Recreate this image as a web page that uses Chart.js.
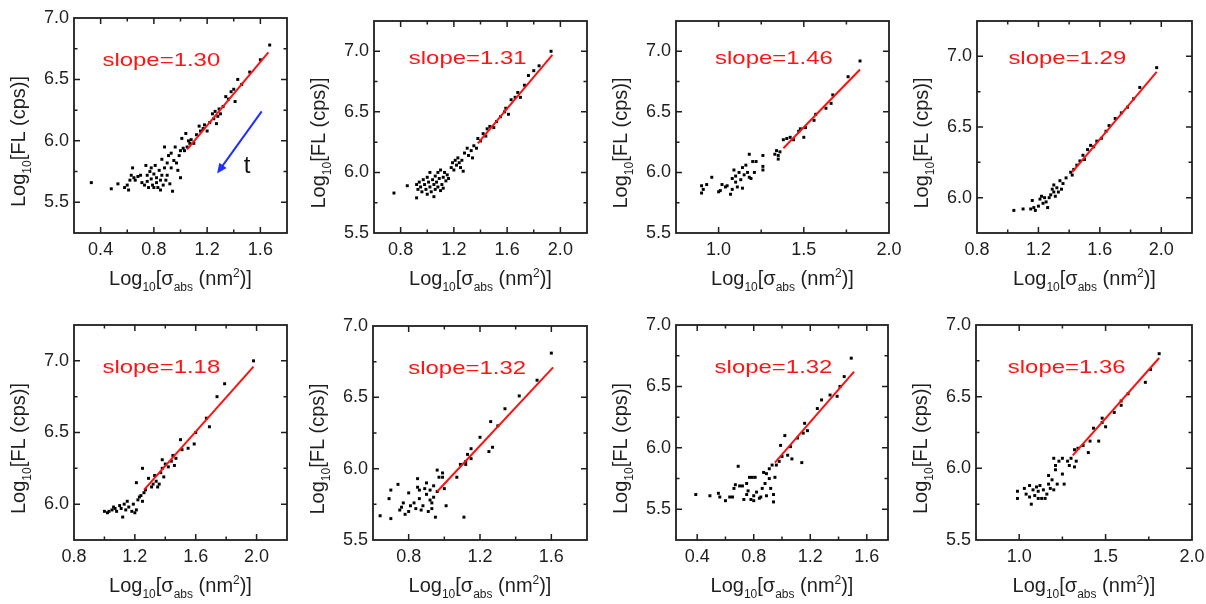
<!DOCTYPE html>
<html><head><meta charset="utf-8">
<script src="https://cdn.jsdelivr.net/npm/chart.js@4.4.0/dist/chart.umd.min.js"></script>
<style>
html,body{margin:0;padding:0;background:#fff;}
#wrap{position:relative;width:1206px;height:604px;overflow:hidden;background:#fff;}
#wrap canvas{position:absolute;}
</style></head><body><div id="wrap"></div>
<script>
// ---------- DATA ----------
const slopes = ['1.30','1.31','1.46','1.29','1.18','1.32','1.32','1.36'];

const p1x = [0.33,0.48,0.53,0.58,0.60,0.61,0.62,0.63,0.64,0.65,0.66,0.68,0.70,0.71,0.73,0.74,0.75,0.75,0.76,0.77,0.78,0.78,0.79,0.80,0.80,0.81,0.82,0.82,0.83,0.84,0.85,0.85,0.86,0.86,0.87,0.88,0.88,0.89,0.90,0.90,0.91,0.92,0.93,0.93,0.94,0.95,0.96,0.97,0.98,0.99,1.00,1.00,1.01,1.02,1.03,1.04,1.05,1.06,1.07,1.08,1.10,1.12,1.14,1.15,1.17,1.18,1.20,1.22,1.24,1.25,1.26,1.27,1.28,1.29,1.30,1.32,1.34,1.36,1.38,1.40,1.41,1.43,1.46,1.52,1.60,1.67];
const p1y = [5.66,5.61,5.65,5.62,5.64,5.60,5.68,5.72,5.78,5.70,5.68,5.71,5.72,5.66,5.64,5.80,5.72,5.67,5.62,5.75,5.69,5.78,5.64,5.62,5.73,5.80,5.70,5.66,5.62,5.76,5.68,5.60,5.72,5.85,5.64,5.78,5.95,5.68,5.82,5.72,5.88,5.65,5.90,5.78,5.59,5.84,5.95,5.82,5.76,5.88,5.70,5.92,6.02,5.94,5.92,6.06,5.95,6.00,5.98,6.01,5.98,6.05,6.12,6.08,6.10,6.13,6.08,6.15,6.22,6.18,6.24,6.14,6.20,6.26,6.22,6.28,6.36,6.34,6.40,6.42,6.32,6.50,6.46,6.56,6.66,6.78];

const p2x = [0.75,0.85,0.92,0.92,0.93,0.94,0.95,0.96,0.97,0.98,0.99,1.00,1.00,1.01,1.02,1.02,1.03,1.04,1.05,1.05,1.06,1.06,1.07,1.08,1.08,1.09,1.10,1.10,1.11,1.12,1.12,1.13,1.14,1.15,1.16,1.18,1.19,1.20,1.21,1.22,1.23,1.24,1.25,1.26,1.27,1.28,1.30,1.31,1.33,1.34,1.35,1.37,1.38,1.40,1.42,1.44,1.45,1.47,1.50,1.52,1.55,1.58,1.59,1.61,1.63,1.66,1.68,1.70,1.73,1.76,1.80,1.84,1.93];
const p2y = [5.83,5.89,5.79,5.90,5.86,5.92,5.88,5.84,5.94,5.90,5.86,5.96,5.82,5.92,5.88,6.00,5.84,5.94,5.90,5.80,5.97,5.86,5.92,6.00,5.88,5.95,5.85,6.02,5.90,5.96,5.87,6.00,5.93,5.98,5.95,6.04,6.08,6.02,6.10,6.06,6.12,6.08,6.04,6.10,6.01,6.16,6.20,6.14,6.18,6.12,6.22,6.20,6.28,6.26,6.32,6.30,6.36,6.38,6.37,6.42,6.46,6.50,6.53,6.48,6.60,6.62,6.66,6.62,6.72,6.80,6.84,6.88,7.00];

const p3x = [0.90,0.90,0.91,0.93,0.96,1.00,1.01,1.02,1.04,1.05,1.07,1.08,1.08,1.09,1.10,1.10,1.11,1.12,1.13,1.14,1.14,1.15,1.16,1.17,1.18,1.18,1.19,1.20,1.21,1.22,1.26,1.26,1.26,1.33,1.34,1.35,1.35,1.36,1.38,1.40,1.42,1.44,1.47,1.48,1.50,1.51,1.56,1.57,1.63,1.66,1.67,1.76,1.83];
const p3y = [5.83,5.89,5.86,5.90,5.96,5.84,5.85,5.90,5.88,5.89,5.82,5.86,5.95,6.02,5.92,5.97,5.88,6.00,5.94,6.04,5.87,5.98,6.06,6.00,5.96,6.15,5.95,6.09,6.00,6.09,6.14,6.05,6.02,6.15,6.18,6.14,6.11,6.17,6.27,6.28,6.29,6.27,6.34,6.36,6.29,6.37,6.43,6.48,6.53,6.57,6.64,6.79,6.92];

const p4x = [1.04,1.10,1.15,1.16,1.17,1.18,1.20,1.21,1.22,1.23,1.24,1.25,1.26,1.27,1.28,1.29,1.30,1.30,1.31,1.32,1.33,1.34,1.35,1.36,1.38,1.41,1.42,1.43,1.45,1.47,1.49,1.50,1.52,1.54,1.56,1.58,1.61,1.64,1.66,1.70,1.74,1.78,1.82,1.86,1.97];
const p4y = [5.91,5.92,5.92,5.98,5.93,5.91,5.94,5.99,6.01,5.96,6.00,5.97,5.93,6.00,6.02,6.06,6.04,6.09,6.01,6.07,6.04,6.12,6.06,6.10,6.14,6.18,6.16,6.20,6.23,6.26,6.30,6.27,6.34,6.37,6.36,6.40,6.42,6.47,6.51,6.56,6.60,6.64,6.70,6.78,6.92];

const p5x = [1.00,1.02,1.03,1.05,1.06,1.07,1.08,1.10,1.11,1.12,1.13,1.14,1.15,1.16,1.18,1.19,1.20,1.21,1.21,1.22,1.23,1.24,1.25,1.25,1.26,1.27,1.29,1.31,1.32,1.33,1.34,1.35,1.36,1.37,1.38,1.38,1.39,1.40,1.42,1.44,1.45,1.46,1.47,1.50,1.51,1.55,1.59,1.60,1.67,1.69,1.74,1.79,1.98];
const p5y = [5.95,5.94,5.95,5.96,5.98,5.97,5.95,5.99,5.97,5.91,6.00,5.96,6.02,5.98,5.95,6.00,5.94,6.15,5.96,6.03,6.05,6.06,6.02,6.25,6.08,6.10,6.18,6.12,6.14,6.20,6.16,6.12,6.14,6.22,6.31,6.25,6.19,6.28,6.26,6.30,6.34,6.27,6.32,6.45,6.38,6.39,6.42,6.50,6.60,6.54,6.75,6.84,7.00];

const p6x = [0.64,0.69,0.70,0.70,0.74,0.75,0.76,0.77,0.78,0.80,0.80,0.81,0.83,0.84,0.85,0.85,0.86,0.86,0.87,0.88,0.89,0.90,0.90,0.91,0.92,0.92,0.93,0.93,0.94,0.94,0.95,0.96,0.96,0.97,0.99,0.99,1.00,1.01,1.07,1.09,1.11,1.12,1.12,1.13,1.15,1.15,1.20,1.25,1.26,1.27,1.30,1.34,1.42,1.52,1.60];
const p6y = [5.67,5.79,5.85,5.65,5.89,5.71,5.73,5.76,5.68,5.83,5.70,5.74,5.76,5.72,5.93,5.87,5.79,5.85,5.71,5.74,5.86,5.90,5.82,5.70,5.78,5.85,5.76,5.72,5.88,5.80,5.66,5.99,5.84,5.94,5.97,5.94,5.86,5.74,5.94,6.03,5.66,6.05,6.03,6.10,6.14,6.07,6.22,6.12,6.33,6.15,6.30,6.42,6.51,6.62,6.81];

const p7x = [0.39,0.49,0.55,0.56,0.60,0.63,0.65,0.66,0.67,0.69,0.70,0.72,0.73,0.75,0.75,0.76,0.77,0.78,0.79,0.80,0.80,0.81,0.82,0.84,0.85,0.86,0.87,0.88,0.89,0.89,0.91,0.91,0.92,0.93,0.94,0.94,0.95,0.96,0.98,0.99,1.00,1.02,1.04,1.06,1.07,1.11,1.14,1.15,1.16,1.18,1.25,1.28,1.34,1.39,1.41,1.44,1.49];
const p7y = [5.62,5.61,5.63,5.60,5.57,5.60,5.60,5.67,5.70,5.85,5.69,5.69,5.58,5.62,5.71,5.65,5.76,5.58,5.76,5.61,5.57,5.76,5.64,5.59,5.60,5.67,5.80,5.71,5.61,5.79,5.75,5.83,5.67,5.86,5.62,5.56,5.76,5.86,5.89,6.02,5.93,6.10,5.94,6.01,5.91,6.08,5.88,6.12,6.20,6.14,6.32,6.39,6.43,6.42,6.50,6.58,6.73];

const p8x = [0.99,0.99,1.03,1.04,1.06,1.06,1.07,1.08,1.09,1.10,1.11,1.11,1.12,1.13,1.14,1.15,1.16,1.17,1.17,1.18,1.19,1.20,1.20,1.21,1.21,1.22,1.23,1.25,1.25,1.26,1.28,1.29,1.30,1.32,1.32,1.33,1.34,1.37,1.40,1.41,1.43,1.46,1.48,1.48,1.50,1.55,1.59,1.59,1.63,1.73,1.76,1.81];
const p8y = [5.84,5.79,5.86,5.82,5.88,5.80,5.75,5.85,5.81,5.87,5.79,5.84,5.88,5.79,5.85,5.79,5.82,5.89,5.95,5.86,5.92,5.85,6.07,6.02,5.99,5.89,6.05,5.96,6.07,5.89,6.05,6.02,6.07,6.01,6.13,6.05,6.14,6.16,6.11,6.19,6.28,6.19,6.35,6.32,6.29,6.39,6.44,6.47,6.52,6.60,6.69,6.80];

// fitted lines (end points)
const fit1x = [1.05,1.66], fit1y = [5.93,6.72];
const fit2x = [1.38,1.94], fit2y = [6.24,6.97];
const fit3x = [1.38,1.83], fit3y = [6.20,6.85];
const fit4x = [1.42,1.97], fit4y = [6.18,6.89];
const fit5x = [1.26,1.98], fit5y = [6.10,6.96];
const fit6x = [0.96,1.61], fit6y = [5.84,6.71];
const fit7x = [0.95,1.51], fit7y = [5.88,6.62];
const fit8x = [1.31,1.81], fit8y = [6.09,6.77];

// axis ranges and tick labels
const xRange1 = [0.2,1.8],  yRange1 = [5.25,7.0];
const xRange2 = [0.6,2.2],  yRange2 = [5.5,7.25];
const xRange3 = [0.75,2.0], yRange3 = [5.5,7.25];
const xRange4 = [0.8,2.2],  yRange4 = [5.75,7.25];
const xRange5 = [0.8,2.2],  yRange5 = [5.75,7.25];
const xRange6 = [0.6,1.8],  yRange6 = [5.5,7.0];
const xRange7 = [0.25,1.75],yRange7 = [5.25,7.0];
const xRange8 = [0.75,2.0], yRange8 = [5.5,7.0];

const xTicksA = [0.4,0.8,1.2,1.6];
const xTicksB = [0.8,1.2,1.6,2.0];
const xTicksC = [1.0,1.5,2.0];
const xTicksD = [0.8,1.2,1.6];
const yTicksA = [5.5,6.0,6.5,7.0];
const yTicksB = [6.0,6.5,7.0];

// time arrow in first panel (data coordinates)
const arrowFrom = [1.61,6.24], arrowTo = [1.275,5.735], arrowLabelAt = [1.50,5.79];

// ---------- LAYOUT ----------
const FONT = '"Liberation Sans", Arial, sans-serif';
const panels = [
  {xs:p1x,ys:p1y,fx:fit1x,fy:fit1y,s:slopes[0],xr:xRange1,yr:yRange1,xt:xTicksA,yt:yTicksA,cell:[0,0],  box:[74,287,18,233], sp:[0.41,0.20], arrow:true},
  {xs:p2x,ys:p2y,fx:fit2x,fy:fit2y,s:slopes[1],xr:xRange2,yr:yRange2,xt:xTicksB,yt:yTicksA,cell:[300,0],box:[74,287,21,233], sp:[0.44,0.18]},
  {xs:p3x,ys:p3y,fx:fit3x,fy:fit3y,s:slopes[2],xr:xRange3,yr:yRange3,xt:xTicksC,yt:yTicksA,cell:[600,0],box:[76,289,21,233], sp:[0.46,0.18]},
  {xs:p4x,ys:p4y,fx:fit4x,fy:fit4y,s:slopes[3],xr:xRange4,yr:yRange4,xt:xTicksB,yt:yTicksB,cell:[900,0],box:[77,292,21,233], sp:[0.42,0.18]},
  {xs:p5x,ys:p5y,fx:fit5x,fy:fit5y,s:slopes[4],xr:xRange5,yr:yRange5,xt:xTicksB,yt:yTicksB,cell:[0,300],  box:[74,287,25,240], sp:[0.41,0.20]},
  {xs:p6x,ys:p6y,fx:fit6x,fy:fit6y,s:slopes[5],xr:xRange6,yr:yRange6,xt:xTicksD,yt:yTicksA,cell:[300,300],box:[73,287,26,240], sp:[0.44,0.20]},
  {xs:p7x,ys:p7y,fx:fit7x,fy:fit7y,s:slopes[6],xr:xRange7,yr:yRange7,xt:xTicksA,yt:yTicksA,cell:[600,300],box:[76,288,25,240], sp:[0.46,0.20]},
  {xs:p8x,ys:p8y,fx:fit8x,fy:fit8y,s:slopes[7],xr:xRange8,yr:yRange8,xt:xTicksC,yt:yTicksA,cell:[900,300],box:[76,292,25,240], sp:[0.42,0.20]}
];

const Y_AXIS_W = 40, X_AXIS_H = 30, RIGHT_PAD = 25, BOTTOM_EXTRA = 62;

function tickMarks(min, max, majors){
  const h = (majors[1]-majors[0])/2, out = [];
  const k0 = Math.ceil((min-majors[0])/h - 1e-6), k1 = Math.floor((max-majors[0])/h + 1e-6);
  for(let k=k0;k<=k1;k++){
    const v = majors[0]+k*h;
    if(Math.abs(v-min)<1e-6 || Math.abs(v-max)<1e-6) continue;
    out.push([v, k%2===0]);
  }
  return out;
}

function drawRich(ctx, segs, cx, cy, size){
  const parts = segs.map(s=>{
    const fs = s.k ? Math.round(size*0.62) : size;
    ctx.font = fs+'px '+FONT;
    return {t:s.t,k:s.k,fs,w:ctx.measureText(s.t).width};
  });
  const total = parts.reduce((a,p)=>a+p.w,0);
  let x = cx-total/2;
  const base = cy + size*0.35;
  ctx.textAlign='left'; ctx.textBaseline='alphabetic';
  parts.forEach(p=>{
    ctx.font = p.fs+'px '+FONT;
    const dy = p.k==='sub' ? size*0.30 : (p.k==='sup' ? -size*0.40 : 0);
    ctx.fillText(p.t, x, base+dy);
    x += p.w;
  });
}

const xTitle = [{t:'Log'},{t:'10',k:'sub'},{t:'[\u03C3'},{t:'abs',k:'sub'},{t:' (nm'},{t:'2',k:'sup'},{t:')]'}];
const yTitle = [{t:'Log'},{t:'10',k:'sub'},{t:'[FL (cps)]'}];

function makeDeco(spec){
  return {
    id:'deco',
    afterDatasetsDraw(chart){
      const {ctx, chartArea:a, scales:{x,y}} = chart;
      ctx.save();
      // inward ticks on all four sides
      ctx.strokeStyle='#1e1e1e'; ctx.lineWidth=1.5;
      ctx.beginPath();
      tickMarks(x.min,x.max,spec.xt).forEach(([v,maj])=>{
        const px = x.getPixelForValue(v), L = maj?6:3.5;
        ctx.moveTo(px,a.bottom); ctx.lineTo(px,a.bottom-L);
        ctx.moveTo(px,a.top); ctx.lineTo(px,a.top+L);
      });
      tickMarks(y.min,y.max,spec.yt).forEach(([v,maj])=>{
        const py = y.getPixelForValue(v), L = maj?6:3.5;
        ctx.moveTo(a.left,py); ctx.lineTo(a.left+L,py);
        ctx.moveTo(a.right,py); ctx.lineTo(a.right-L,py);
      });
      ctx.stroke();
      ctx.lineWidth=1.8;
      ctx.strokeRect(a.left,a.top,a.right-a.left,a.bottom-a.top);

      // slope annotation
      const cx = a.left + spec.sp[0]*(a.right-a.left);
      const cy = a.top + spec.sp[1]*(a.bottom-a.top);
      ctx.save();
      ctx.translate(cx,cy); ctx.scale(1.26,1);
      ctx.fillStyle='#ff1414'; ctx.font='19px '+FONT;
      ctx.textAlign='center'; ctx.textBaseline='middle';
      ctx.fillText('slope='+spec.s,0,0);
      ctx.restore();

      // time arrow
      if(spec.arrow){
        const x0=x.getPixelForValue(arrowFrom[0]), y0=y.getPixelForValue(arrowFrom[1]);
        const x1=x.getPixelForValue(arrowTo[0]),   y1=y.getPixelForValue(arrowTo[1]);
        const ang = Math.atan2(y1-y0,x1-x0), hl=10, hw=4.5;
        ctx.strokeStyle='#1f2fff'; ctx.fillStyle='#1f2fff'; ctx.lineWidth=2;
        ctx.beginPath(); ctx.moveTo(x0,y0);
        ctx.lineTo(x1-Math.cos(ang)*hl*0.8, y1-Math.sin(ang)*hl*0.8); ctx.stroke();
        ctx.beginPath();
        ctx.moveTo(x1,y1);
        ctx.lineTo(x1-Math.cos(ang)*hl+Math.sin(ang)*hw, y1-Math.sin(ang)*hl-Math.cos(ang)*hw);
        ctx.lineTo(x1-Math.cos(ang)*hl-Math.sin(ang)*hw, y1-Math.sin(ang)*hl+Math.cos(ang)*hw);
        ctx.closePath(); ctx.fill();
        ctx.fillStyle='#111'; ctx.font='24px '+FONT;
        ctx.textAlign='center'; ctx.textBaseline='middle';
        ctx.fillText('t', x.getPixelForValue(arrowLabelAt[0]), y.getPixelForValue(arrowLabelAt[1]));
      }

      // axis titles
      ctx.fillStyle='#1e1e1e';
      drawRich(ctx, xTitle, (a.left+a.right)/2, a.bottom+45, 20);
      ctx.save();
      ctx.translate(a.left-56, (a.top+a.bottom)/2+16);
      ctx.rotate(-Math.PI/2);
      drawRich(ctx, yTitle, 0, 0, 20);
      ctx.restore();
      ctx.restore();
    }
  };
}

const wrap = document.getElementById('wrap');
panels.forEach(spec=>{
  const [L,R,T,B] = spec.box;
  const W = R + RIGHT_PAD, H = B + BOTTOM_EXTRA;
  const cv = document.createElement('canvas');
  cv.width = W; cv.height = H;
  cv.style.left = spec.cell[0]+'px'; cv.style.top = spec.cell[1]+'px';
  cv.style.width = W+'px'; cv.style.height = H+'px';
  wrap.appendChild(cv);

  const pts = spec.xs.map((v,i)=>({x:v, y:spec.ys[i]}));
  const fit = spec.fx.map((v,i)=>({x:v, y:spec.fy[i]}));
  const tickFont = {size:18, family:FONT};

  new Chart(cv, {
    type:'scatter',
    data:{datasets:[
      {data:fit, showLine:true, borderColor:'#ff1010', borderWidth:2, pointRadius:0, fill:false},
      {data:pts, pointStyle:'rect', pointRadius:2.1, backgroundColor:'#000', borderWidth:0}
    ]},
    options:{
      responsive:false, animation:false, devicePixelRatio:1,
      layout:{padding:{left:L-Y_AXIS_W, right:RIGHT_PAD, top:T, bottom:BOTTOM_EXTRA-X_AXIS_H}},
      plugins:{legend:{display:false}, tooltip:{enabled:false}},
      events:[],
      scales:{
        x:{type:'linear', min:spec.xr[0], max:spec.xr[1],
           grid:{display:false, drawTicks:false}, border:{display:false},
           afterBuildTicks: ax=>{ ax.ticks = spec.xt.map(v=>({value:v})); },
           afterFit: ax=>{ ax.height = X_AXIS_H; },
           ticks:{padding:6, color:'#1e1e1e', font:tickFont, maxRotation:0, autoSkip:false,
                  callback:v=>Number(v).toFixed(1)}},
        y:{type:'linear', min:spec.yr[0], max:spec.yr[1],
           grid:{display:false, drawTicks:false}, border:{display:false},
           afterBuildTicks: ax=>{ ax.ticks = spec.yt.map(v=>({value:v})); },
           afterFit: ax=>{ ax.width = Y_AXIS_W; },
           ticks:{padding:5, color:'#1e1e1e', font:tickFont, autoSkip:false,
                  callback:v=>Number(v).toFixed(1)}}
      }
    },
    plugins:[makeDeco(spec)]
  });
});
</script>
</body></html>
